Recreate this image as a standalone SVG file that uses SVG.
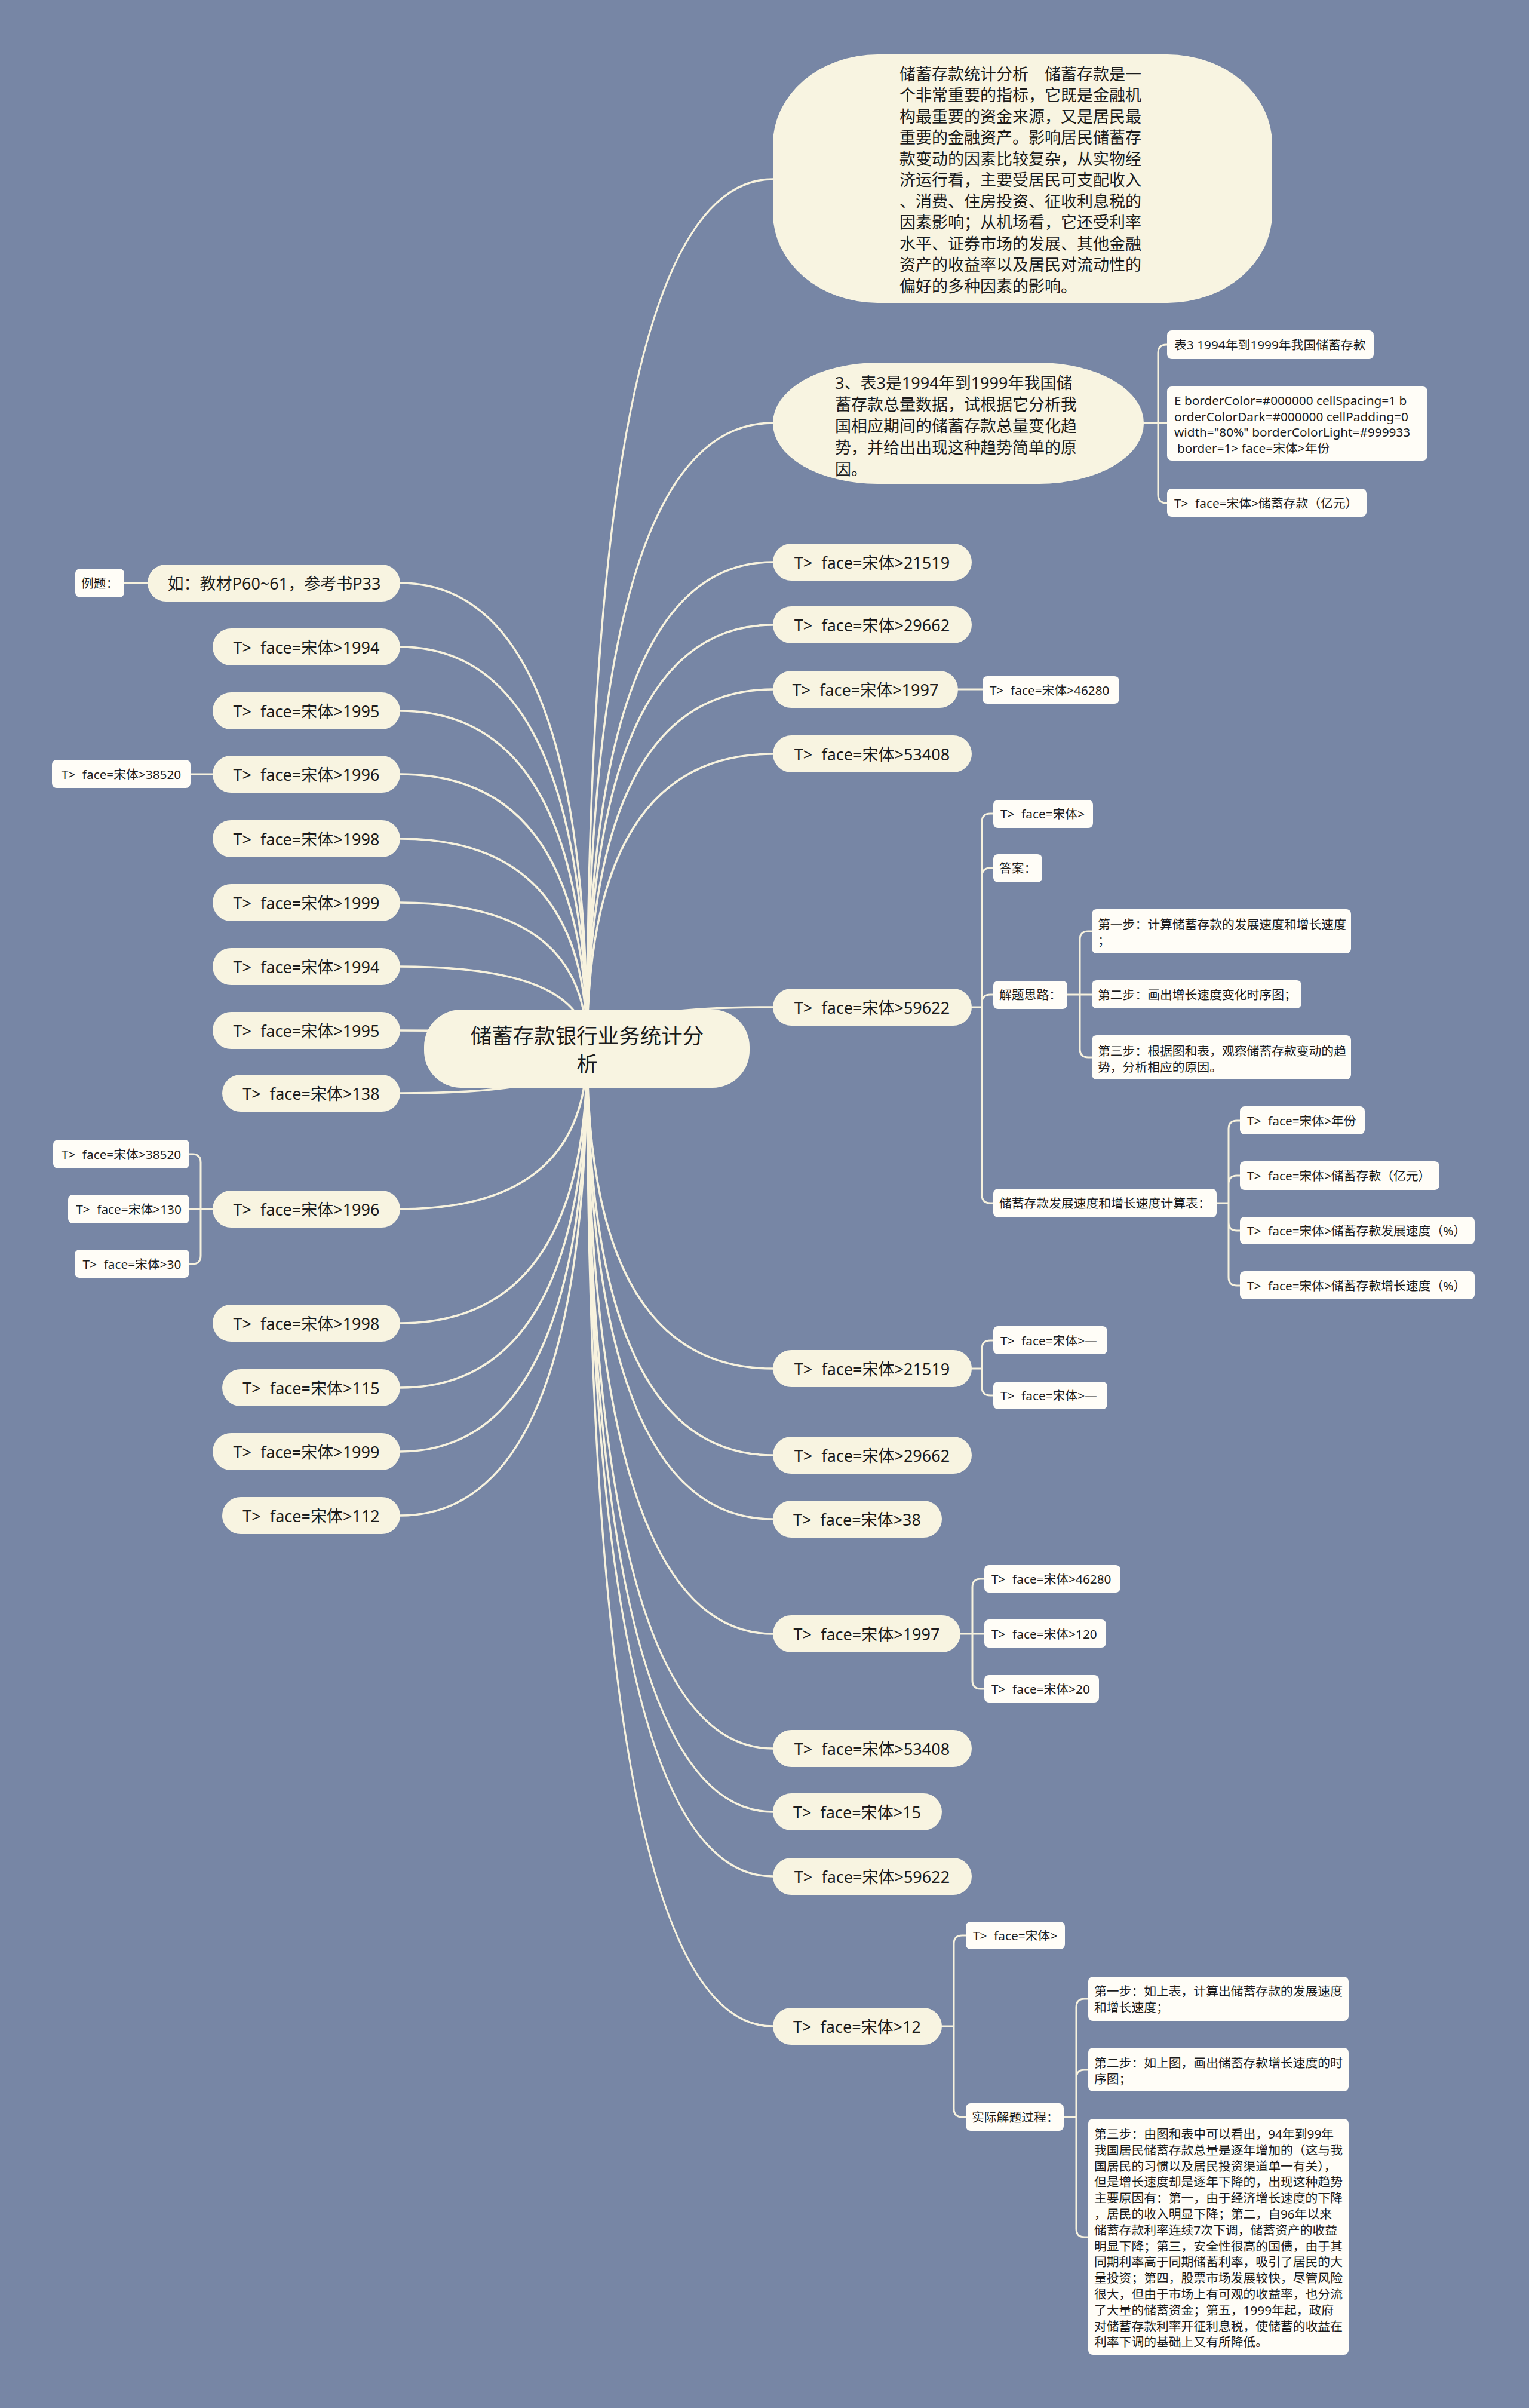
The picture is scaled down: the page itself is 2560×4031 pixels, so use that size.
<svg xmlns="http://www.w3.org/2000/svg" width="2560" height="4031" viewBox="0 0 2560 4031">
<style>
.t{font-family:"Noto Sans","Noto Sans CJK SC",sans-serif;fill:#1c1c1c;dominant-baseline:central}
.c{fill:none;stroke:#f7f2de;stroke-width:3;stroke-linecap:round}
.r{stroke-width:3.5}
.pill{fill:#f8f4e1}
.box{fill:#fffdf7}
.f35{font-size:35.5px}
.f27{font-size:27px}
.f21{font-size:20.8px}
.m{text-anchor:middle}
.w{word-spacing:0.3em}
</style>
<rect x="0" y="0" width="2560" height="4031" fill="#7786a5"/>
<g id="connectors">
<path class="c r" d="M983 1755 Q983 300 1294 300"/>
<path class="c r" d="M983 1755 Q983 708 1294 708"/>
<path class="c r" d="M983 1755 Q983 941 1294 941"/>
<path class="c r" d="M983 1755 Q983 1046 1294 1046"/>
<path class="c r" d="M983 1755 Q983 1154 1294 1154"/>
<path class="c r" d="M983 1755 Q983 1262 1294 1262"/>
<path class="c r" d="M983 1755 Q983 1686 1294 1686"/>
<path class="c r" d="M983 1755 Q983 2291 1294 2291"/>
<path class="c r" d="M983 1755 Q983 2436 1294 2436"/>
<path class="c r" d="M983 1755 Q983 2543 1294 2543"/>
<path class="c r" d="M983 1755 Q983 2735 1294 2735"/>
<path class="c r" d="M983 1755 Q983 2927 1294 2927"/>
<path class="c r" d="M983 1755 Q983 3033 1294 3033"/>
<path class="c r" d="M983 1755 Q983 3141 1294 3141"/>
<path class="c r" d="M983 1755 Q983 3392 1294 3392"/>
<path class="c r" d="M983 1755 Q983 976 670 976"/>
<path class="c r" d="M983 1755 Q983 1083 670 1083"/>
<path class="c r" d="M983 1755 Q983 1190 670 1190"/>
<path class="c r" d="M983 1755 Q983 1296 670 1296"/>
<path class="c r" d="M983 1755 Q983 1404 670 1404"/>
<path class="c r" d="M983 1755 Q983 1511 670 1511"/>
<path class="c r" d="M983 1755 Q983 1618 670 1618"/>
<path class="c r" d="M983 1755 Q983 1725 670 1725"/>
<path class="c r" d="M983 1755 Q983 1830 670 1830"/>
<path class="c r" d="M983 1755 Q983 2024 670 2024"/>
<path class="c r" d="M983 1755 Q983 2215 670 2215"/>
<path class="c r" d="M983 1755 Q983 2323 670 2323"/>
<path class="c r" d="M983 1755 Q983 2430 670 2430"/>
<path class="c r" d="M983 1755 Q983 2537 670 2537"/>
<path class="c" d="M1915 708 H1939 M1939 708 V591 Q1939 577 1953 577 H1954 M1939 708 H1954 M1939 708 V828 Q1939 842 1953 842 H1954"/>
<path class="c" d="M1604 1154 H1645"/>
<path class="c" d="M1627 1686 H1644 M1644 1686 V1376 Q1644 1362 1658 1362 H1663 M1644 1686 V1467 Q1644 1453 1658 1453 H1663 M1644 1686 V1679 Q1644 1665 1658 1665 H1663 M1644 1686 V2000 Q1644 2014 1658 2014 H1663"/>
<path class="c" d="M1787 1665 H1808 M1808 1665 V1573 Q1808 1559 1822 1559 H1828 M1808 1665 H1828 M1808 1665 V1756 Q1808 1770 1822 1770 H1828"/>
<path class="c" d="M2037 2014 H2057 M2057 2014 V1890 Q2057 1876 2071 1876 H2076 M2057 2014 V1982 Q2057 1968 2071 1968 H2076 M2057 2014 V2046 Q2057 2060 2071 2060 H2076 M2057 2014 V2138 Q2057 2152 2071 2152 H2076"/>
<path class="c" d="M1627 2291 H1644 M1644 2291 V2258 Q1644 2244 1658 2244 H1663 M1644 2291 V2322 Q1644 2336 1658 2336 H1663"/>
<path class="c" d="M1608 2735 H1628 M1628 2735 V2657 Q1628 2643 1642 2643 H1648 M1628 2735 H1648 M1628 2735 V2813 Q1628 2827 1642 2827 H1648"/>
<path class="c" d="M1577 3392 H1597 M1597 3392 V3254 Q1597 3240 1611 3240 H1617 M1597 3392 V3530 Q1597 3544 1611 3544 H1617"/>
<path class="c" d="M1781 3544 H1802 M1802 3544 V3360 Q1802 3346 1816 3346 H1822 M1802 3544 V3479 Q1802 3465 1816 3465 H1822 M1802 3544 V3731 Q1802 3745 1816 3745 H1822"/>
<path class="c" d="M356 2024 H336 M336 2024 V1946 Q336 1932 322 1932 H317 M336 2024 H317 M336 2024 V2102 Q336 2116 322 2116 H317"/>
<path class="c" d="M356 1296 H319"/>
<path class="c" d="M247 976 H208"/>
</g>

<g id="root">
<rect class="pill" x="710" y="1690" width="545" height="131" rx="62" ry="62"/>
<text class="t f35 m" x="983" y="1733">储蓄存款银行业务统计分</text>
<text class="t f35 m" x="983" y="1780">析</text>
</g>

<g id="n-intro">
<rect class="pill" x="1294" y="91" width="836" height="416" rx="175" ry="150"/>
<text class="t f27" x="1506" y="123">储蓄存款统计分析　储蓄存款是一</text>
<text class="t f27" x="1506" y="158.5">个非常重要的指标，它既是金融机</text>
<text class="t f27" x="1506" y="194">构最重要的资金来源，又是居民最</text>
<text class="t f27" x="1506" y="229.5">重要的金融资产。影响居民储蓄存</text>
<text class="t f27" x="1506" y="265">款变动的因素比较复杂，从实物经</text>
<text class="t f27" x="1506" y="300.5">济运行看，主要受居民可支配收入</text>
<text class="t f27" x="1506" y="336">、消费、住房投资、征收利息税的</text>
<text class="t f27" x="1506" y="371.5">因素影响；从机场看，它还受利率</text>
<text class="t f27" x="1506" y="407">水平、证券市场的发展、其他金融</text>
<text class="t f27" x="1506" y="442.5">资产的收益率以及居民对流动性的</text>
<text class="t f27" x="1506" y="478">偏好的多种因素的影响。</text>
</g>

<g id="n-q3">
<rect class="pill" x="1294" y="607" width="621" height="203" rx="175" ry="101"/>
<text class="t f27" x="1398" y="640">3、表3是1994年到1999年我国储</text>
<text class="t f27" x="1398" y="676">蓄存款总量数据，试根据它分析我</text>
<text class="t f27" x="1398" y="712">国相应期间的储蓄存款总量变化趋</text>
<text class="t f27" x="1398" y="748">势，并给出出现这种趋势简单的原</text>
<text class="t f27" x="1398" y="784">因。</text>
</g>
<g id="n-q3-a">
<rect class="box" x="1954" y="553" width="346" height="48" rx="8"/>
<text class="t f21" x="1966" y="577">表3 1994年到1999年我国储蓄存款</text>
</g>
<g id="n-q3-b">
<rect class="box" x="1954" y="647" width="436" height="124" rx="8"/>
<text class="t f21" x="1966" y="670">E borderColor=#000000 cellSpacing=1 b</text>
<text class="t f21" x="1966" y="697">orderColorDark=#000000 cellPadding=0</text>
<text class="t f21" x="1966" y="723">width="80%" borderColorLight=#999933</text>
<text class="t f21" x="1971" y="750">border=1&gt; face=宋体&gt;年份</text>
</g>
<g id="n-q3-c">
<rect class="box" x="1954" y="818" width="334" height="47" rx="8"/>
<text class="t f21 w" x="1966" y="842">T&gt; face=宋体&gt;储蓄存款（亿元）</text>
</g>

<g id="n-r-21519">
<rect class="pill" x="1294" y="910" width="333" height="62" rx="31"/>
<text class="t f27 m w" x="1460" y="941">T&gt; face=宋体&gt;21519</text>
</g>
<g id="n-r-29662">
<rect class="pill" x="1294" y="1015" width="333" height="62" rx="31"/>
<text class="t f27 m w" x="1460" y="1046">T&gt; face=宋体&gt;29662</text>
</g>
<g id="n-r-1997">
<rect class="pill" x="1294" y="1123" width="310" height="62" rx="31"/>
<text class="t f27 m w" x="1449" y="1154">T&gt; face=宋体&gt;1997</text>
</g>
<g id="n-r-1997-46280">
<rect class="box" x="1645" y="1132" width="229" height="46" rx="8"/>
<text class="t f21 w" x="1657" y="1155">T&gt; face=宋体&gt;46280</text>
</g>
<g id="n-r-53408">
<rect class="pill" x="1294" y="1231" width="333" height="62" rx="31"/>
<text class="t f27 m w" x="1460" y="1262">T&gt; face=宋体&gt;53408</text>
</g>

<g id="n-r-59622">
<rect class="pill" x="1294" y="1655" width="333" height="62" rx="31"/>
<text class="t f27 m w" x="1460" y="1686">T&gt; face=宋体&gt;59622</text>
</g>
<g id="n-59622-a">
<rect class="box" x="1663" y="1339" width="167" height="47" rx="8"/>
<text class="t f21 w" x="1675" y="1362">T&gt; face=宋体&gt;</text>
</g>
<g id="n-59622-b">
<rect class="box" x="1663" y="1430" width="82" height="47" rx="8"/>
<text class="t f21" x="1673" y="1453">答案：</text>
</g>
<g id="n-59622-c">
<rect class="box" x="1663" y="1642" width="124" height="47" rx="8"/>
<text class="t f21" x="1673" y="1665">解题思路：</text>
</g>
<g id="n-step1">
<rect class="box" x="1828" y="1522" width="434" height="74" rx="8"/>
<text class="t f21" x="1838" y="1547">第一步：计算储蓄存款的发展速度和增长速度</text>
<text class="t f21" x="1838" y="1574">；</text>
</g>
<g id="n-step2">
<rect class="box" x="1828" y="1641" width="351" height="47" rx="8"/>
<text class="t f21" x="1838" y="1665">第二步：画出增长速度变化时序图；</text>
</g>
<g id="n-step3">
<rect class="box" x="1828" y="1733" width="434" height="74" rx="8"/>
<text class="t f21" x="1838" y="1759">第三步：根据图和表，观察储蓄存款变动的趋</text>
<text class="t f21" x="1838" y="1786">势，分析相应的原因。</text>
</g>
<g id="n-table">
<rect class="box" x="1663" y="1990" width="374" height="48" rx="8"/>
<text class="t f21" x="1673" y="2014">储蓄存款发展速度和增长速度计算表：</text>
</g>
<g id="n-table-a">
<rect class="box" x="2076" y="1852" width="209" height="47" rx="8"/>
<text class="t f21 w" x="2088" y="1876">T&gt; face=宋体&gt;年份</text>
</g>
<g id="n-table-b">
<rect class="box" x="2076" y="1944" width="334" height="48" rx="8"/>
<text class="t f21 w" x="2088" y="1968">T&gt; face=宋体&gt;储蓄存款（亿元）</text>
</g>
<g id="n-table-c">
<rect class="box" x="2076" y="2037" width="393" height="46" rx="8"/>
<text class="t f21 w" x="2088" y="2060">T&gt; face=宋体&gt;储蓄存款发展速度（%）</text>
</g>
<g id="n-table-d">
<rect class="box" x="2076" y="2128" width="393" height="47" rx="8"/>
<text class="t f21 w" x="2088" y="2152">T&gt; face=宋体&gt;储蓄存款增长速度（%）</text>
</g>

<g id="n-r-21519b">
<rect class="pill" x="1294" y="2260" width="333" height="62" rx="31"/>
<text class="t f27 m w" x="1460" y="2291">T&gt; face=宋体&gt;21519</text>
</g>
<g id="n-dash-a">
<rect class="box" x="1663" y="2220" width="191" height="47" rx="8"/>
<text class="t f21 w" x="1675" y="2244">T&gt; face=宋体&gt;—</text>
</g>
<g id="n-dash-b">
<rect class="box" x="1663" y="2313" width="191" height="46" rx="8"/>
<text class="t f21 w" x="1675" y="2336">T&gt; face=宋体&gt;—</text>
</g>
<g id="n-r-29662b">
<rect class="pill" x="1294" y="2405" width="333" height="62" rx="31"/>
<text class="t f27 m w" x="1460" y="2436">T&gt; face=宋体&gt;29662</text>
</g>
<g id="n-r-38">
<rect class="pill" x="1294" y="2512" width="283" height="62" rx="31"/>
<text class="t f27 m w" x="1435" y="2543">T&gt; face=宋体&gt;38</text>
</g>
<g id="n-r-1997b">
<rect class="pill" x="1294" y="2704" width="314" height="62" rx="31"/>
<text class="t f27 m w" x="1451" y="2735">T&gt; face=宋体&gt;1997</text>
</g>
<g id="n-1997b-a">
<rect class="box" x="1648" y="2620" width="228" height="46" rx="8"/>
<text class="t f21 w" x="1660" y="2643">T&gt; face=宋体&gt;46280</text>
</g>
<g id="n-1997b-b">
<rect class="box" x="1648" y="2711" width="204" height="47" rx="8"/>
<text class="t f21 w" x="1660" y="2735">T&gt; face=宋体&gt;120</text>
</g>
<g id="n-1997b-c">
<rect class="box" x="1648" y="2804" width="192" height="46" rx="8"/>
<text class="t f21 w" x="1660" y="2827">T&gt; face=宋体&gt;20</text>
</g>
<g id="n-r-53408b">
<rect class="pill" x="1294" y="2896" width="333" height="62" rx="31"/>
<text class="t f27 m w" x="1460" y="2927">T&gt; face=宋体&gt;53408</text>
</g>
<g id="n-r-15">
<rect class="pill" x="1294" y="3002" width="283" height="62" rx="31"/>
<text class="t f27 m w" x="1435" y="3033">T&gt; face=宋体&gt;15</text>
</g>
<g id="n-r-59622b">
<rect class="pill" x="1294" y="3110" width="333" height="62" rx="31"/>
<text class="t f27 m w" x="1460" y="3141">T&gt; face=宋体&gt;59622</text>
</g>
<g id="n-r-12">
<rect class="pill" x="1294" y="3361" width="283" height="62" rx="31"/>
<text class="t f27 m w" x="1435" y="3392">T&gt; face=宋体&gt;12</text>
</g>
<g id="n-12-a">
<rect class="box" x="1617" y="3217" width="166" height="46" rx="8"/>
<text class="t f21 w" x="1629" y="3240">T&gt; face=宋体&gt;</text>
</g>
<g id="n-12-b">
<rect class="box" x="1617" y="3521" width="164" height="46" rx="8"/>
<text class="t f21" x="1627" y="3544">实际解题过程：</text>
</g>
<g id="n-proc1">
<rect class="box" x="1822" y="3309" width="436" height="74" rx="8"/>
<text class="t f21" x="1832" y="3333">第一步：如上表，计算出储蓄存款的发展速度</text>
<text class="t f21" x="1832" y="3360">和增长速度；</text>
</g>
<g id="n-proc2">
<rect class="box" x="1822" y="3428" width="436" height="73" rx="8"/>
<text class="t f21" x="1832" y="3453">第二步：如上图，画出储蓄存款增长速度的时</text>
<text class="t f21" x="1832" y="3480">序图；</text>
</g>
<g id="n-proc3">
<rect class="box" x="1822" y="3547" width="436" height="395" rx="8"/>
<text class="t f21" x="1832" y="3572">第三步：由图和表中可以看出，94年到99年</text>
<text class="t f21" x="1832" y="3598.8">我国居民储蓄存款总量是逐年增加的（这与我</text>
<text class="t f21" x="1832" y="3625.6">国居民的习惯以及居民投资渠道单一有关），</text>
<text class="t f21" x="1832" y="3652.4">但是增长速度却是逐年下降的，出现这种趋势</text>
<text class="t f21" x="1832" y="3679.2">主要原因有：第一，由于经济增长速度的下降</text>
<text class="t f21" x="1832" y="3706">，居民的收入明显下降；第二，自96年以来</text>
<text class="t f21" x="1832" y="3732.8">储蓄存款利率连续7次下调，储蓄资产的收益</text>
<text class="t f21" x="1832" y="3759.6">明显下降；第三，安全性很高的国债，由于其</text>
<text class="t f21" x="1832" y="3786.4">同期利率高于同期储蓄利率，吸引了居民的大</text>
<text class="t f21" x="1832" y="3813.2">量投资；第四，股票市场发展较快，尽管风险</text>
<text class="t f21" x="1832" y="3840">很大，但由于市场上有可观的收益率，也分流</text>
<text class="t f21" x="1832" y="3866.8">了大量的储蓄资金；第五，1999年起，政府</text>
<text class="t f21" x="1832" y="3893.6">对储蓄存款利率开征利息税，使储蓄的收益在</text>
<text class="t f21" x="1832" y="3920.4">利率下调的基础上又有所降低。</text>
</g>

<g id="n-l-ex">
<rect class="pill" x="247" y="945" width="423" height="62" rx="31"/>
<text class="t f27 m" x="459" y="976">如：教材P60~61，参考书P33</text>
</g>
<g id="n-l-ex-label">
<rect class="box" x="126" y="952" width="82" height="48" rx="8"/>
<text class="t f21" x="136" y="976">例题：</text>
</g>
<g id="n-l-1994">
<rect class="pill" x="356" y="1052" width="314" height="62" rx="31"/>
<text class="t f27 m w" x="513" y="1083">T&gt; face=宋体&gt;1994</text>
</g>
<g id="n-l-1995">
<rect class="pill" x="356" y="1159" width="314" height="62" rx="31"/>
<text class="t f27 m w" x="513" y="1190">T&gt; face=宋体&gt;1995</text>
</g>
<g id="n-l-1996">
<rect class="pill" x="356" y="1265" width="314" height="62" rx="31"/>
<text class="t f27 m w" x="513" y="1296">T&gt; face=宋体&gt;1996</text>
</g>
<g id="n-l-1996-38520">
<rect class="box" x="87" y="1272" width="232" height="47" rx="8"/>
<text class="t f21 m w" x="203" y="1296">T&gt; face=宋体&gt;38520</text>
</g>
<g id="n-l-1998">
<rect class="pill" x="356" y="1373" width="314" height="62" rx="31"/>
<text class="t f27 m w" x="513" y="1404">T&gt; face=宋体&gt;1998</text>
</g>
<g id="n-l-1999">
<rect class="pill" x="356" y="1480" width="314" height="62" rx="31"/>
<text class="t f27 m w" x="513" y="1511">T&gt; face=宋体&gt;1999</text>
</g>
<g id="n-l-1994b">
<rect class="pill" x="356" y="1587" width="314" height="62" rx="31"/>
<text class="t f27 m w" x="513" y="1618">T&gt; face=宋体&gt;1994</text>
</g>
<g id="n-l-1995b">
<rect class="pill" x="356" y="1694" width="314" height="62" rx="31"/>
<text class="t f27 m w" x="513" y="1725">T&gt; face=宋体&gt;1995</text>
</g>
<g id="n-l-138">
<rect class="pill" x="372" y="1799" width="298" height="62" rx="31"/>
<text class="t f27 m w" x="521" y="1830">T&gt; face=宋体&gt;138</text>
</g>
<g id="n-l-1996b">
<rect class="pill" x="356" y="1993" width="314" height="62" rx="31"/>
<text class="t f27 m w" x="513" y="2024">T&gt; face=宋体&gt;1996</text>
</g>
<g id="n-l-1996b-a">
<rect class="box" x="89" y="1908" width="228" height="48" rx="8"/>
<text class="t f21 m w" x="203" y="1932">T&gt; face=宋体&gt;38520</text>
</g>
<g id="n-l-1996b-b">
<rect class="box" x="114" y="2000" width="203" height="48" rx="8"/>
<text class="t f21 m w" x="215.5" y="2024">T&gt; face=宋体&gt;130</text>
</g>
<g id="n-l-1996b-c">
<rect class="box" x="125" y="2092" width="192" height="47" rx="8"/>
<text class="t f21 m w" x="221" y="2116">T&gt; face=宋体&gt;30</text>
</g>
<g id="n-l-1998b">
<rect class="pill" x="356" y="2184" width="314" height="62" rx="31"/>
<text class="t f27 m w" x="513" y="2215">T&gt; face=宋体&gt;1998</text>
</g>
<g id="n-l-115">
<rect class="pill" x="372" y="2292" width="298" height="62" rx="31"/>
<text class="t f27 m w" x="521" y="2323">T&gt; face=宋体&gt;115</text>
</g>
<g id="n-l-1999b">
<rect class="pill" x="356" y="2399" width="314" height="62" rx="31"/>
<text class="t f27 m w" x="513" y="2430">T&gt; face=宋体&gt;1999</text>
</g>
<g id="n-l-112">
<rect class="pill" x="372" y="2506" width="298" height="62" rx="31"/>
<text class="t f27 m w" x="521" y="2537">T&gt; face=宋体&gt;112</text>
</g>
</svg>
